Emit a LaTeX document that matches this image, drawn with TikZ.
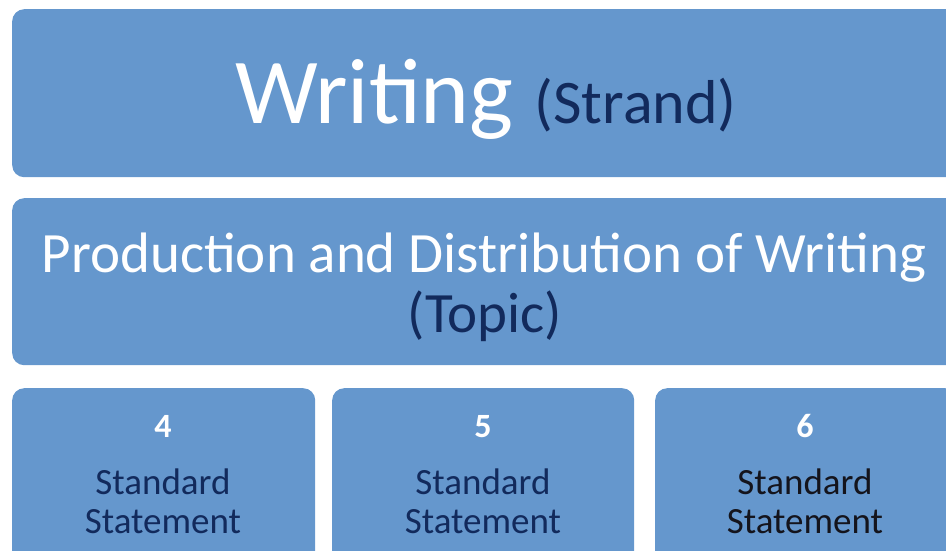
\documentclass[tikz,border=0pt]{standalone}
\usepackage{fontspec}
\setmainfont{Carlito}
\usetikzlibrary{positioning}

\definecolor{boxblue}{RGB}{101,151,205}
\definecolor{navytext}{RGB}{18,42,92}
\definecolor{darktext}{RGB}{20,20,28}

\tikzset{
    panel/.style={draw=none, fill=boxblue, rounded corners=12pt,
        anchor=north west, inner sep=0pt},
    label/.style={anchor=base, inner sep=0pt, align=center}
}

\begin{document}
\begin{tikzpicture}[x=1pt, y=-1pt]
    \useasboundingbox (0, 0) rectangle (946, 550);
    \clip (0, 0) rectangle (946, 550);

    % Panels
    \node (strand_box) at (12, 9) 
        [panel, minimum width=946pt, minimum height=168pt] {};
    \node (topic_box) at (12, 198) 
        [panel, minimum width=946pt, minimum height=167pt] {};
    \node (std_four) at (12, 388) 
        [panel, minimum width=303pt, minimum height=190pt] {};
    \node (std_five) at (332, 388) 
        [panel, minimum width=302pt, minimum height=190pt] {};
    \node (std_six) at (655, 388) 
        [panel, minimum width=302pt, minimum height=190pt] {};

    % Texts
    \node (strand_text) at (486, 123) 
        [label, white] 
        {\fontsize{93}{93}\selectfont Writing
         \textcolor{navytext}{\fontsize{62}{62}\selectfont (Strand)}};
    \node (topic_text) at (484, 272) 
        [label, white, font=\fontsize{57}{60}\selectfont] 
        {Production and Distribution of Writing};
    \node (topic_tag) at (485, 332) 
        [label, navytext, font=\fontsize{57}{60}\selectfont] 
        {(Topic)};

    \node (num_four) at (163, 437) 
        [label, white, font=\fontsize{34}{34}\selectfont\bfseries] {4};
    \node (num_five) at (483, 437) 
        [label, white, font=\fontsize{34}{34}\selectfont\bfseries] {5};
    \node (num_six) at (805, 437) 
        [label, white, font=\fontsize{34}{34}\selectfont\bfseries] {6};

    \node (stmt_four) at (163, 533) 
        [label, navytext, font=\fontsize{37}{39}\selectfont] 
        {Standard\\Statement};
    \node (stmt_five) at (483, 533) 
        [label, navytext, font=\fontsize{37}{39}\selectfont] 
        {Standard\\Statement};
    \node (stmt_six) at (805, 533) 
        [label, darktext, font=\fontsize{37}{39}\selectfont] 
        {Standard\\Statement};
\end{tikzpicture}
\end{document}
